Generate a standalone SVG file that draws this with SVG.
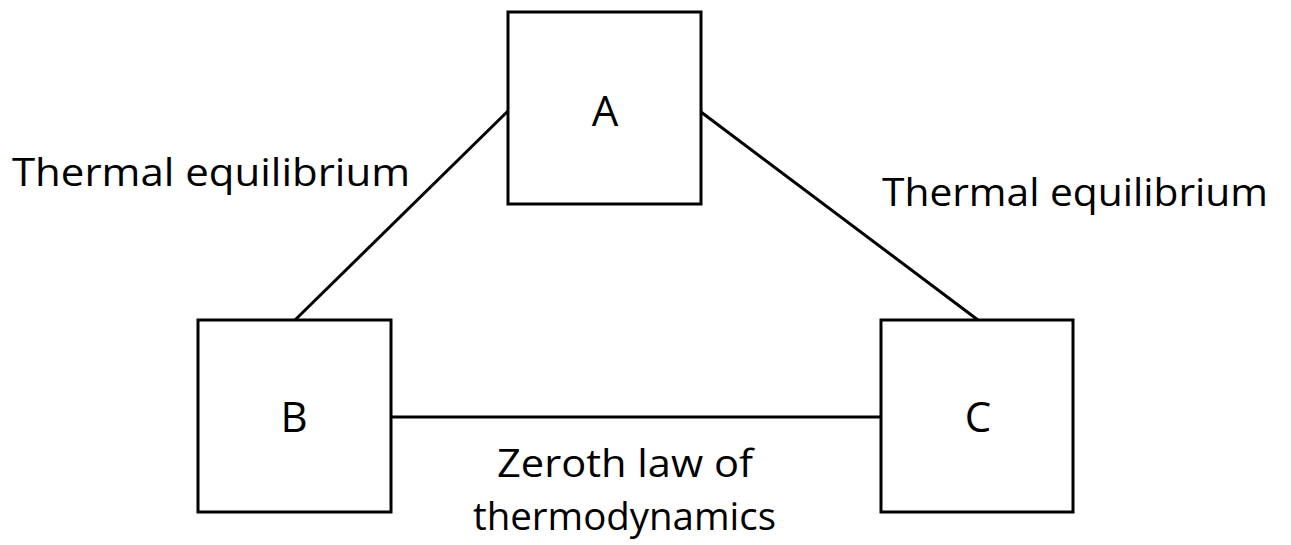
<svg xmlns="http://www.w3.org/2000/svg" width="1291" height="545" viewBox="0 0 1291 545">
<style>
.box{fill:#fff;stroke:#000;stroke-width:3}
.ln{stroke:#000;stroke-width:3;fill:none}
.lbl{font-family:"Open Sans","Liberation Sans",sans-serif;font-size:38px;fill:#000}
.let{font-family:"Open Sans","Liberation Sans",sans-serif;font-size:42px;fill:#000;text-anchor:middle}
</style>
<rect width="1291" height="545" fill="#fff"/>
<g id="connectors">
<line class="ln" x1="508" y1="111" x2="295" y2="320"/>
<line class="ln" x1="701" y1="112" x2="978" y2="320"/>
<line class="ln" x1="391" y1="417" x2="881" y2="417"/>
</g>
<g id="nodeA">
<rect class="box" x="508" y="12" width="193" height="192"/>
<text class="let" x="605" y="126">A</text>
</g>
<g id="nodeB">
<rect class="box" x="198" y="320" width="193" height="192"/>
<text class="let" x="294" y="432">B</text>
</g>
<g id="nodeC">
<rect class="box" x="881" y="320" width="192" height="192"/>
<text class="let" x="978" y="432">C</text>
</g>
<g id="labels">
<text class="lbl" x="12" y="186" textLength="398" lengthAdjust="spacingAndGlyphs">Thermal equilibrium</text>
<text class="lbl" x="882" y="206" textLength="386" lengthAdjust="spacingAndGlyphs">Thermal equilibrium</text>
<text class="lbl" x="497" y="477" textLength="256" lengthAdjust="spacingAndGlyphs">Zeroth law of</text>
<text class="lbl" x="473" y="530" textLength="303" lengthAdjust="spacingAndGlyphs">thermodynamics</text>
</g>
</svg>
